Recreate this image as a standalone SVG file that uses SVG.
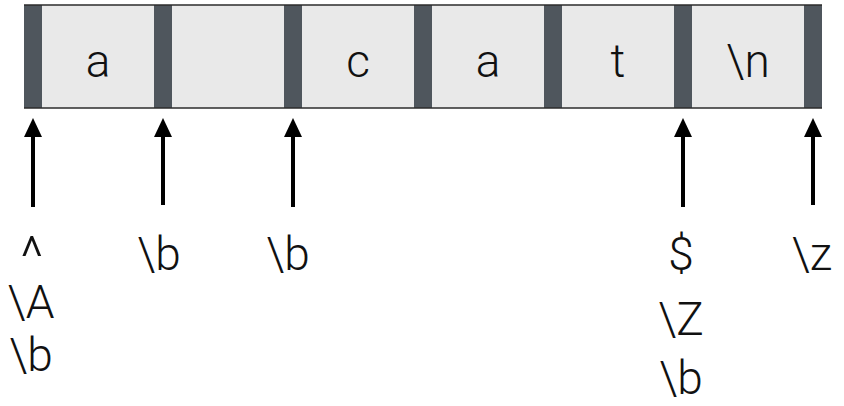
<svg xmlns="http://www.w3.org/2000/svg" width="844" height="406" viewBox="0 0 844 406">
<style>
.cell{fill:#e9e9e9}
.sep{fill:#4f565d}
.edge{stroke:#2b2b2b;stroke-width:1.5}
.t{font-family:"Roboto","Liberation Sans",Arial,sans-serif;font-weight:300;font-size:46px;fill:#111;text-anchor:middle}
.arr{stroke:#000;stroke-width:4;fill:none}
.head{fill:#000}
</style>
<g id="strip">
<rect class="cell" x="24" y="5" width="798" height="103"/>
<rect class="sep" x="24" y="5" width="18" height="103"/>
<rect class="sep" x="154" y="5" width="18" height="103"/>
<rect class="sep" x="284" y="5" width="18" height="103"/>
<rect class="sep" x="414" y="5" width="18" height="103"/>
<rect class="sep" x="544" y="5" width="18" height="103"/>
<rect class="sep" x="674" y="5" width="18" height="103"/>
<rect class="sep" x="804" y="5" width="18" height="103"/>
<line class="edge" x1="24" y1="5" x2="822" y2="5"/>
<line class="edge" x1="24" y1="108" x2="822" y2="108"/>
</g>
<g id="c1"><text class="t" x="98" y="77">a</text></g>
<g id="c2"></g>
<g id="c3"><text class="t" x="358" y="77">c</text></g>
<g id="c4"><text class="t" x="488" y="77">a</text></g>
<g id="c5"><text class="t" x="618" y="77">t</text></g>
<g id="c6"><text class="t" x="748" y="77">\n</text></g>
<g id="connectors">
<line class="arr" x1="33" y1="207" x2="33" y2="134"/>
<polygon class="head" points="33,118 42,137 24,137"/>
<line class="arr" x1="163" y1="205" x2="163" y2="134"/>
<polygon class="head" points="163,118 172,137 154,137"/>
<line class="arr" x1="293" y1="207" x2="293" y2="134"/>
<polygon class="head" points="293,118 302,137 284,137"/>
<line class="arr" x1="683" y1="207" x2="683" y2="134"/>
<polygon class="head" points="683,118 692,137 674,137"/>
<line class="arr" x1="813" y1="205" x2="813" y2="134"/>
<polygon class="head" points="813,118 822,137 804,137"/>
</g>
<g id="l1">
<text class="t" x="32" y="276" style="font-size:56px">^</text>
<text class="t" x="31" y="318">\A</text>
<text class="t" x="31" y="371">\b</text>
</g>
<g id="l2"><text class="t" x="159" y="270">\b</text></g>
<g id="l3"><text class="t" x="288" y="270">\b</text></g>
<g id="l4">
<text class="t" x="681" y="270">$</text>
<text class="t" x="681" y="335">\Z</text>
<text class="t" x="681" y="394">\b</text>
</g>
<g id="l5"><text class="t" x="812" y="270">\z</text></g>
</svg>
